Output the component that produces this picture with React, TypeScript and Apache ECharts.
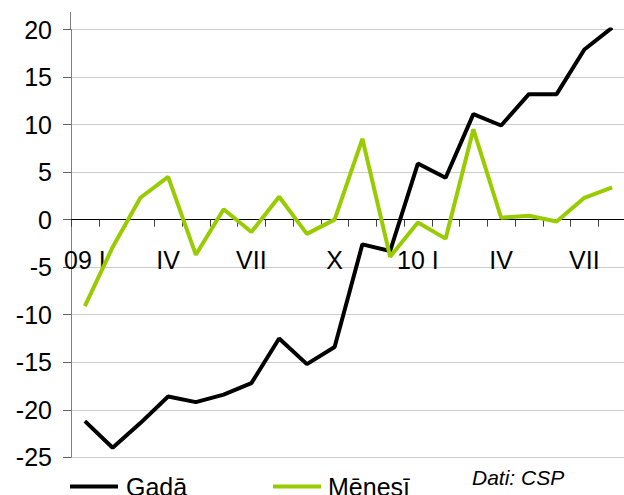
import React, { useEffect, useRef } from "react";
import * as echarts from "echarts";

const categories = [
  "09 I", "II", "III", "IV", "V", "VI", "VII", "VIII", "IX", "X", "XI", "XII",
  "10 I", "II", "III", "IV", "V", "VI", "VII", "VIII",
];
const gada = [
  -21.2, -24.0, -21.4, -18.6, -19.2, -18.4, -17.2, -12.5, -15.2, -13.4,
  -2.6, -3.3, 5.9, 4.4, 11.1, 9.9, 13.2, 13.2, 17.9, 20.2,
];
const menesi = [
  -9.1, -2.9, 2.3, 4.5, -3.7, 1.1, -1.3, 2.4, -1.5, 0.0,
  8.5, -3.9, -0.3, -2.0, 9.5, 0.2, 0.4, -0.2, 2.3, 3.4,
];
const yTicks = { min: -25, max: 20, interval: 5 };
const seriesNames = ["Gadā", "Mēnesī"];
const seriesColors = ["#000000", "#99cc00"];
const sourceNote = "Dati: CSP";

const FONT = 'Arial, "Liberation Sans", sans-serif';
const GRID_TOP = 29.5;
const GRID_H = 427.8;

export default function App() {
  const ref = useRef<HTMLDivElement>(null);
  useEffect(() => {
    if (!ref.current) return;
    const chart = echarts.init(ref.current, null, { renderer: "svg" });
    // place the category axis at the zero of the value axis
    const zeroOffset = -GRID_H * (0 - yTicks.min) / (yTicks.max - yTicks.min);
    const legendBase = {
      top: 474,
      padding: 0,
      icon: "rect",
      itemWidth: 48,
      itemHeight: 4,
      itemGap: 0,
    };
    chart.setOption({
      animation: false,
      backgroundColor: "#ffffff",
      textStyle: { fontFamily: FONT },
      grid: {
        left: 71,
        top: GRID_TOP,
        width: 555,
        height: GRID_H,
        containLabel: false,
        outerBoundsMode: "none",
      },
      xAxis: {
        type: "category",
        data: categories,
        boundaryGap: true,
        position: "bottom",
        offset: zeroOffset,
        axisLine: { onZero: false, lineStyle: { color: "#000000", width: 1 } },
        axisTick: { show: true, interval: 0, length: 7, lineStyle: { color: "#404040" } },
        axisLabel: {
          interval: 2,
          margin: 28,
          fontSize: 25,
          color: "#000000",
          fontFamily: FONT,
        },
        splitLine: { show: false },
      },
      yAxis: {
        type: "value",
        min: yTicks.min,
        max: yTicks.max,
        interval: yTicks.interval,
        axisLine: { show: true, lineStyle: { color: "#808080", width: 1 } },
        axisTick: { show: true, length: 8, lineStyle: { color: "#606060" } },
        axisLabel: { margin: 19, fontSize: 25, color: "#000000", fontFamily: FONT },
        splitLine: { show: true, lineStyle: { color: "#cccccc", width: 1 } },
      },
      legend: [
        {
          ...legendBase,
          left: 70,
          data: [{ name: seriesNames[0] }],
          textStyle: { fontSize: 25, color: "#000000", fontFamily: FONT, padding: [0, 0, 0, 3] },
        },
        {
          ...legendBase,
          left: 273,
          data: [{ name: seriesNames[1] }],
          textStyle: { fontSize: 25, color: "#000000", fontFamily: FONT, padding: [0, 0, 0, 2] },
        },
      ],
      graphic: [
        {
          type: "line",
          shape: { x1: 70.5, y1: 12, x2: 70.5, y2: 29.5 },
          style: { stroke: "#808080", lineWidth: 1 },
          silent: true,
        },
        {
          type: "text",
          left: 472,
          top: 467,
          style: {
            text: sourceNote,
            font: `italic 21px ${FONT}`,
            fill: "#000000",
          },
        },
      ],
      series: [
        {
          name: seriesNames[0],
          type: "line",
          data: gada,
          symbol: "none",
          lineStyle: { color: seriesColors[0], width: 4 },
          itemStyle: { color: seriesColors[0] },
        },
        {
          name: seriesNames[1],
          type: "line",
          data: menesi,
          symbol: "none",
          lineStyle: { color: seriesColors[1], width: 4 },
          itemStyle: { color: seriesColors[1] },
        },
      ],
    });
    return () => chart.dispose();
  }, []);
  return (
    <div
      ref={ref}
      style={{ position: "fixed", left: 0, top: 0, width: 624, height: 495 }}
    />
  );
}
